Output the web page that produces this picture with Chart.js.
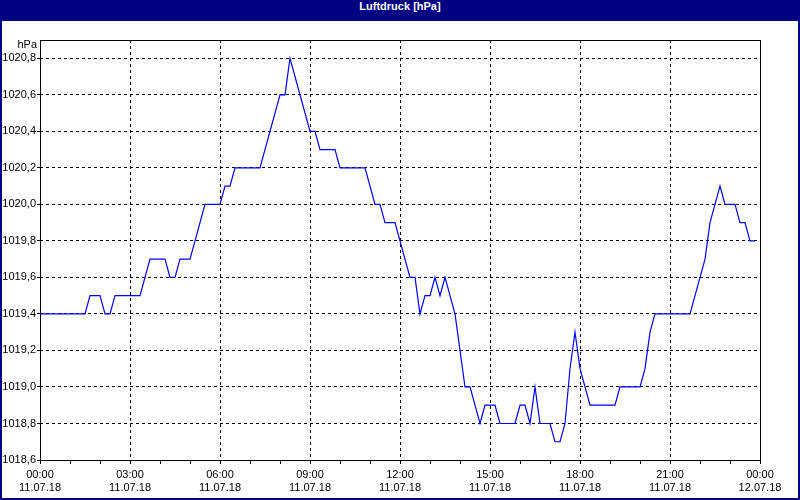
<!DOCTYPE html>
<html>
<head>
<meta charset="utf-8">
<script src="https://cdn.jsdelivr.net/npm/chart.js@4.4.1/dist/chart.umd.min.js"></script>
<style>
  body { margin: 0; background: #fff; }
  #frame { position: relative; width: 800px; height: 500px; background: #000080; }
  #title { height: 21px; line-height: 21px; text-align: center; color: #fff;
           font: bold 11px "Liberation Sans", Arial, sans-serif; }
  #chart { position: absolute; left: 2px; top: 21px; background: #fff; }
</style>
</head>
<body>
<div id="frame">
  <div id="title">Luftdruck [hPa]</div>
  <canvas id="chart" width="796" height="477"></canvas>
</div>
<script>
// minutes since 11.07.18 00:00
const times = [0, 90, 100, 120, 130, 140, 150, 200, 220, 250, 260, 270, 280, 300, 330, 360, 370, 380, 390, 440,
  480, 490, 500, 520, 540, 550, 560, 590, 600, 650, 670, 680, 690, 710, 740, 750, 760, 770, 780, 790,
  800, 810, 830, 840, 850, 860, 880, 890, 910, 920, 950, 960, 970, 980, 990, 1000, 1020, 1030, 1040, 1050,
  1060, 1070, 1080, 1100, 1150, 1160, 1200, 1210, 1220, 1230, 1300, 1320, 1330, 1340, 1350, 1360, 1370, 1390, 1400, 1410,
  1420, 1430];
const pressure = [1019.4, 1019.4, 1019.5, 1019.5, 1019.4, 1019.4, 1019.5, 1019.5, 1019.7, 1019.7, 1019.6, 1019.6, 1019.7, 1019.7, 1020.0, 1020.0, 1020.1, 1020.1, 1020.2, 1020.2,
  1020.6, 1020.6, 1020.8, 1020.6, 1020.4, 1020.4, 1020.3, 1020.3, 1020.2, 1020.2, 1020.0, 1020.0, 1019.9, 1019.9, 1019.6, 1019.6, 1019.4, 1019.5, 1019.5, 1019.6,
  1019.5, 1019.6, 1019.4, 1019.2, 1019.0, 1019.0, 1018.8, 1018.9, 1018.9, 1018.8, 1018.8, 1018.9, 1018.9, 1018.8, 1019.0, 1018.8, 1018.8, 1018.7, 1018.7, 1018.8,
  1019.1, 1019.3, 1019.1, 1018.9, 1018.9, 1019.0, 1019.0, 1019.1, 1019.3, 1019.4, 1019.4, 1019.6, 1019.7, 1019.9, 1020.0, 1020.1, 1020.0, 1020.0, 1019.9, 1019.9,
  1019.8, 1019.8];

const hourTicks = [0, 60, 120, 180, 240, 300, 360, 420, 480, 540, 600, 660, 720, 780, 840, 900, 960, 1020, 1080, 1140, 1200, 1260, 1320, 1380, 1440];
const timeLabels = ['00:00', '03:00', '06:00', '09:00', '12:00', '15:00', '18:00', '21:00', '00:00'];
const dateLabels = ['11.07.18', '11.07.18', '11.07.18', '11.07.18', '11.07.18', '11.07.18', '11.07.18', '11.07.18', '12.07.18'];
const yTicks = [1018.6, 1018.8, 1019.0, 1019.2, 1019.4, 1019.6, 1019.8, 1020.0, 1020.2, 1020.4, 1020.6, 1020.8];

const font = { family: '"Liberation Sans", Arial, sans-serif', size: 11 };

const framePlugin = {
  id: 'frame',
  afterDraw(chart) {
    const { ctx, chartArea: a } = chart;
    ctx.save();
    ctx.strokeStyle = '#000';
    ctx.lineWidth = 1;
    ctx.strokeRect(a.left + 0.5, a.top + 0.5, a.right - a.left, a.bottom - a.top);
    ctx.fillStyle = '#000';
    ctx.font = '11px "Liberation Sans", Arial, sans-serif';
    ctx.textAlign = 'right';
    ctx.textBaseline = 'middle';
    ctx.fillText('hPa', a.left - 3, a.top + 5);
    ctx.restore();
  }
};

new Chart(document.getElementById('chart'), {
  type: 'line',
  data: {
    datasets: [{
      data: times.map((t, i) => ({ x: t, y: pressure[i] })),
      borderColor: '#0000ff',
      borderWidth: 1.2,
      pointRadius: 0,
      tension: 0,
      fill: false
    }]
  },
  options: {
    responsive: false,
    animation: false,
    devicePixelRatio: 1,
    layout: { padding: { top: 19, right: 38, left: 0, bottom: 0 } },
    plugins: { legend: { display: false }, title: { display: false }, tooltip: { enabled: false } },
    scales: {
      x: {
        type: 'linear',
        min: 0,
        max: 1440,
        afterBuildTicks: s => { s.ticks = hourTicks.map(v => ({ value: v })); },
        afterFit: s => { s.height = 38; },
        border: { display: false, dash: [3, 3] },
        grid: {
          color: c => (c.tick && c.tick.value % 180 === 0 && c.tick.value > 0 && c.tick.value < 1440) ? '#000' : 'rgba(0,0,0,0)',
          tickColor: '#000',
          tickLength: 4,
          lineWidth: 1
        },
        ticks: {
          autoSkip: false,
          maxRotation: 0,
          padding: 4,
          color: '#000',
          font,
          callback: v => v % 180 === 0 ? [timeLabels[v / 180], dateLabels[v / 180]] : ''
        }
      },
      y: {
        min: 1018.6,
        max: 1020.9,
        afterBuildTicks: s => { s.ticks = yTicks.map(v => ({ value: v })); },
        afterFit: s => { s.width = 38; },
        border: { display: false, dash: [3, 3] },
        grid: {
          color: c => (c.tick && c.tick.value > 1018.7) ? '#000' : 'rgba(0,0,0,0)',
          tickColor: '#000',
          tickLength: 3,
          lineWidth: 1
        },
        ticks: {
          padding: 1,
          color: '#000',
          font,
          callback: v => v.toFixed(1).replace('.', ',')
        }
      }
    }
  },
  plugins: [framePlugin]
});
</script>
</body>
</html>
